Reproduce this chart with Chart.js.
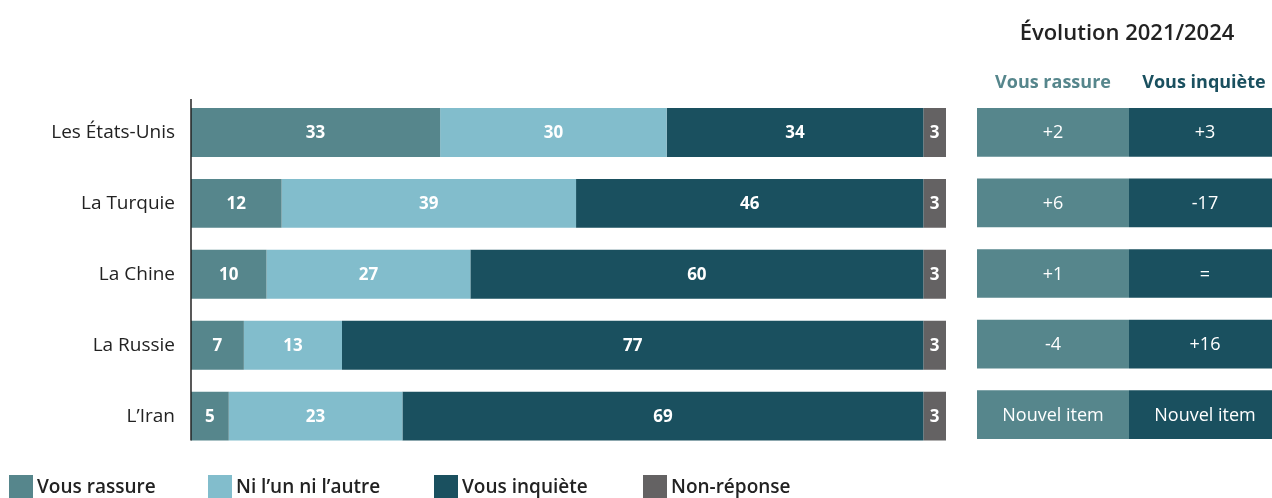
<!DOCTYPE html>
<html lang="fr">
<head>
<meta charset="utf-8">
<script src="https://cdn.jsdelivr.net/npm/chart.js@4"></script>
<style>
body{margin:0;width:1272px;height:498px;background:#fff;font-family:"Open Sans",sans-serif;position:relative;overflow:hidden;color:#222}
#graf{position:absolute;left:0;top:0}
#evol{position:absolute;left:960px;top:0}
#titulo{position:absolute;left:977px;width:300px;top:16px;text-align:center;font-size:22px;font-weight:600;color:#222}
.cab{position:absolute;top:69px;font-size:18px;font-weight:700;text-align:center}
#leyenda div{position:absolute;top:475px;height:23px;font-size:19px;font-weight:600;line-height:23px;white-space:nowrap}
#leyenda span{display:inline-block;width:24px;height:23px;vertical-align:top;margin-right:4px}
</style>
</head>
<body>
<canvas id="graf" width="960" height="479"></canvas>
<canvas id="evol" width="321" height="460"></canvas>
<div id="titulo">Évolution 2021/2024</div>
<div class="cab" style="left:977px;width:152px;color:#56868c">Vous rassure</div>
<div class="cab" style="left:1129px;width:150px;color:#1a505f">Vous inquiète</div>
<div id="leyenda"></div>
<script>
const paises = ["Les États-Unis", "La Turquie", "La Chine", "La Russie", "L’Iran"];
const series = ["Vous rassure", "Ni l’un ni l’autre", "Vous inquiète", "Non-réponse"];
const rassure = [33, 12, 10, 7, 5];
const niNi = [30, 39, 27, 13, 23];
const inquiete = [34, 46, 60, 77, 69];
const nonReponse = [3, 3, 3, 3, 3];
const evolRassure = ["+2", "+6", "+1", "-4", "Nouvel item"];
const evolInquiete = ["+3", "-17", "=", "+16", "Nouvel item"];
const colores = ["#56868c", "#82bdcc", "#1a505f", "#646263"];

// etiquetas blancas al centro de cada segmento
function pluginEtiquetas(fuente, textos) {
    return {
        id: 'etiquetas',
        afterDatasetsDraw(chart) {
            const ctx = chart.ctx;
            ctx.save();
            ctx.fillStyle = '#fff';
            ctx.font = fuente;
            ctx.textAlign = 'center';
            ctx.textBaseline = 'middle';
            chart.data.datasets.forEach((ds, i) => {
                chart.getDatasetMeta(i).data.forEach((bar, j) => {
                    const t = textos ? textos[i][j] : ds.data[j];
                    ctx.fillText(t, (bar.x + bar.base) / 2, bar.y + 1);
                });
            });
            ctx.restore();
        }
    };
}

const ejeVertical = {
    id: 'ejeVertical',
    afterDatasetsDraw(chart) {
        const barras = chart.getDatasetMeta(0).data;
        const primera = barras[0], ultima = barras[barras.length - 1];
        const ctx = chart.ctx;
        const x = chart.chartArea.left;
        ctx.save();
        ctx.strokeStyle = '#222';
        ctx.lineWidth = 1.5;
        ctx.beginPath();
        ctx.moveTo(x, primera.y - primera.height / 2 - 9);
        ctx.lineTo(x, ultima.y + ultima.height / 2);
        ctx.stroke();
        ctx.restore();
    }
};

const valores = [rassure, niNi, inquiete, nonReponse];

new Chart(document.getElementById("graf"), {
    type: "bar",
    data: {
        labels: paises,
        datasets: series.map((s, i) => ({
            label: s,
            data: valores[i],
            backgroundColor: colores[i],
            borderWidth: 0,
            barPercentage: 0.69,
            categoryPercentage: 1
        }))
    },
    options: {
        responsive: false,
        animation: false,
        indexAxis: 'y',
        layout: { padding: { top: 97, bottom: 10, right: 14, left: 0 } },
        scales: {
            x: { stacked: true, min: 0, max: 100, display: false },
            y: {
                stacked: true,
                grid: { display: false, drawTicks: false },
                border: { display: false },
                ticks: { color: '#222', font: { family: 'Open Sans', size: 19 }, padding: 16 },
                afterFit(scale) { scale.width = 191; }
            }
        },
        plugins: { legend: { display: false }, tooltip: { enabled: false } }
    },
    plugins: [pluginEtiquetas('700 17px "Open Sans"'), ejeVertical]
});

// tabla de evolución: dos columnas iguales, la de la derecha queda cortada por el borde
new Chart(document.getElementById("evol"), {
    type: "bar",
    data: {
        labels: paises,
        datasets: [
            { label: "Vous rassure", data: paises.map(() => 1), backgroundColor: colores[0], borderWidth: 0, barPercentage: 0.69, categoryPercentage: 1 },
            { label: "Vous inquiète", data: paises.map(() => 1), backgroundColor: colores[2], borderWidth: 0, barPercentage: 0.69, categoryPercentage: 1 }
        ]
    },
    options: {
        responsive: false,
        animation: false,
        indexAxis: 'y',
        layout: { padding: { top: 97, bottom: 10, left: 17, right: 0 } },
        scales: {
            x: { stacked: true, min: 0, max: 2, display: false },
            y: { stacked: true, display: false }
        },
        plugins: { legend: { display: false }, tooltip: { enabled: false } }
    },
    plugins: [pluginEtiquetas('400 18px "Open Sans"', [evolRassure, evolInquiete])]
});

// leyenda
const posLeyenda = [9, 208, 434, 643];
const leyenda = document.getElementById("leyenda");
series.forEach((s, i) => {
    const d = document.createElement("div");
    d.style.left = posLeyenda[i] + "px";
    d.innerHTML = '<span style="background:' + colores[i] + '"></span>' + s;
    leyenda.appendChild(d);
});
</script>
</body>
</html>
